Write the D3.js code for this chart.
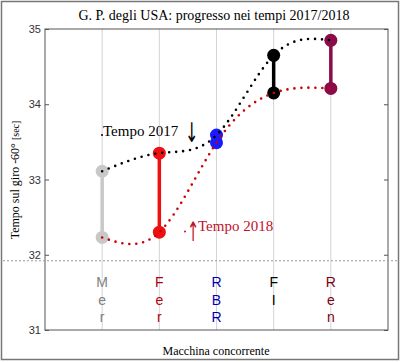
<!DOCTYPE html>
<html><head><meta charset="utf-8">
<script src="https://cdn.jsdelivr.net/npm/d3@7"></script>
<style>body{margin:0;background:#fff}svg{display:block}</style>
</head><body>
<script>
const categories = ["Mer","Fer","RBR","FI","Ren"];
const catLetters = [["M","e","r"],["F","e","r"],["R","B","R"],["F","I"],["R","e","n"]];
const time2017 = [33.11, 33.35, 33.59, 34.65, 34.85];
const time2018 = [32.23, 32.30, 33.49, 34.15, 34.21];
const dotColors = ["#c8c8c8","#ee1111","#1a1aff","#000000","#8b0a4a"];
const labelColors = ["#808080","#b00010","#0000b0","#000000","#7a0010"];
const yTicks = [31,32,33,34,35];
const refLine = 31.92;

const W=401,H=362;
const svg=d3.select("body").append("svg").attr("width",W).attr("height",H);
svg.append("rect").attr("width",W).attr("height",H).attr("fill","#fff");
svg.append("rect").attr("x",1.5).attr("y",1.5).attr("width",397).attr("height",358)
  .attr("fill","none").attr("stroke","#777").attr("stroke-width",1.5);

const L=45,R=388,T=29,B=330;
const x=d3.scalePoint().domain(categories).range([L,R]).padding(1);
const y=d3.scaleLinear().domain([31,35]).range([B,T]);

// grid
svg.append("g").selectAll("line").data(categories).join("line")
  .attr("x1",d=>x(d)).attr("x2",d=>x(d)).attr("y1",T).attr("y2",B)
  .attr("stroke","#d4d4d4").attr("stroke-width",1);

// frame
svg.append("rect").attr("x",L).attr("y",T).attr("width",R-L).attr("height",B-T)
  .attr("fill","none").attr("stroke","#555").attr("stroke-width",1);

// y axes
const yl=svg.append("g").attr("transform",`translate(${L},0)`)
  .call(d3.axisRight(y).tickValues(yTicks).tickSize(4).tickFormat(""));
yl.select(".domain").remove();
yl.selectAll("line").attr("stroke","#555");
const yr=svg.append("g").attr("transform",`translate(${R},0)`)
  .call(d3.axisLeft(y).tickValues(yTicks).tickSize(4).tickFormat(""));
yr.select(".domain").remove();
yr.selectAll("line").attr("stroke","#555");
svg.append("g").selectAll("text").data(yTicks).join("text")
  .attr("x",L-4).attr("y",d=>y(d)+4).attr("text-anchor","end")
  .attr("font-family","Liberation Sans, Arial, sans-serif").attr("font-size",11)
  .attr("fill","#333").text(d=>d);

// reference dashed line
svg.append("line").attr("x1",3).attr("x2",398).attr("y1",y(refLine)).attr("y2",y(refLine))
  .attr("stroke","#999").attr("stroke-width",1).attr("stroke-dasharray","2,2");

// category labels
categories.forEach((c,i)=>{
  svg.append("g").selectAll("text").data(catLetters[i]).join("text")
    .attr("x",x(c)).attr("y",(d,j)=>287+j*17.5).attr("text-anchor","middle")
    .attr("font-family","Liberation Sans, Arial, sans-serif").attr("font-size",14)
    .attr("fill",labelColors[i]).text(d=>d);
});

// vertical bars and dots
categories.forEach((c,i)=>{
  svg.append("line").attr("x1",x(c)).attr("x2",x(c))
    .attr("y1",y(time2017[i])).attr("y2",y(time2018[i]))
    .attr("stroke",dotColors[i]).attr("stroke-width",3.5);
  [time2017[i],time2018[i]].forEach(v=>{
    svg.append("circle").attr("cx",x(c)).attr("cy",y(v)).attr("r",6.5).attr("fill",dotColors[i]);
  });
});

// dotted curves
const line=d3.line().x((d,i)=>x(categories[i])).y(d=>y(d)).curve(d3.curveNatural);
svg.append("path").attr("d",line(time2017)).attr("fill","none").attr("stroke","#000")
  .attr("stroke-width",2.6).attr("stroke-linecap","round").attr("stroke-dasharray","0,7");
svg.append("path").attr("d",line(time2018)).attr("fill","none").attr("stroke","#cc0000")
  .attr("stroke-width",2.6).attr("stroke-linecap","round").attr("stroke-dasharray","0,7");

// annotations
const serif="Liberation Serif, Times New Roman, serif";
svg.append("circle").attr("cx",102).attr("cy",135).attr("r",1).attr("fill","#000");
svg.append("text").attr("x",103).attr("y",136).attr("font-family",serif).attr("font-size",15)
  .attr("fill","#000").text("Tempo 2017");
svg.append("text").attr("transform","translate(185,142) scale(0.6,1)").attr("font-family","DejaVu Sans, sans-serif").attr("font-size",27)
  .attr("fill","#000").text("↓");
svg.append("circle").attr("cx",185).attr("cy",231.5).attr("r",1).attr("fill","#c0102a");
svg.append("text").attr("transform","translate(187,241) scale(0.55,1)").attr("font-family","DejaVu Sans, sans-serif").attr("font-size",27)
  .attr("fill","#c0102a").text("↑");
svg.append("text").attr("x",198).attr("y",231).attr("font-family",serif).attr("font-size",15)
  .attr("fill","#c0102a").text("Tempo 2018");

// title and axis labels
svg.append("text").attr("x",214).attr("y",20).attr("text-anchor","middle")
  .attr("font-family",serif).attr("font-size",14).attr("fill","#000")
  .text("G. P. degli USA: progresso nei tempi 2017/2018");
svg.append("text").attr("x",216).attr("y",355).attr("text-anchor","middle")
  .attr("font-family",serif).attr("font-size",12).attr("fill","#000")
  .text("Macchina concorrente");
const yt=svg.append("text").attr("transform","translate(19,180) rotate(-90)").attr("text-anchor","middle")
  .attr("font-family",serif).attr("font-size",12).attr("fill","#000");
yt.append("tspan").text("Tempo sul giro -60°  ");
yt.append("tspan").attr("font-size",10).text("[sec]");
</script>
</body></html>
